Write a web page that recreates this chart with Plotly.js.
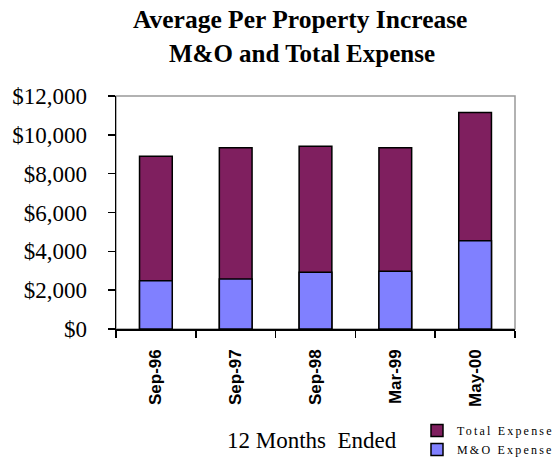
<!DOCTYPE html>
<html>
<head>
<meta charset="utf-8">
<script src="https://cdn.plot.ly/plotly-3.0.1.min.js"></script>
<style>
  html, body { margin: 0; padding: 0; background: #fff; }
  #chart { width: 559px; height: 460px; }
  .legendtext { letter-spacing: 2.2px; }
</style>
</head>
<body>
<div id="chart"></div>
<script>
// ---- data ----
const categories = ["Sep-96", "Sep-97", "Sep-98", "Mar-99", "May-00"];
const totalExpense = [8900, 9330, 9410, 9330, 11150];
const moExpense = [2480, 2570, 2920, 2980, 4540];
const seriesNames = ["Total Expense", "M&O Expense"];
const yTickVals = [0, 2000, 4000, 6000, 8000, 10000, 12000];
const yTickText = ["$0", "$2,000", "$4,000", "$6,000", "$8,000", "$10,000", "$12,000"];
const titleLines = ["Average Per Property Increase", "M&O and Total Expense"];
const xTitle = "12 Months\u00a0 Ended";

const serif = "Liberation Serif, Times New Roman, serif";
const sans = "Liberation Sans, Arial, sans-serif";

const traces = [
  {
    type: "bar", name: seriesNames[0], x: categories, y: totalExpense,
    marker: { color: "#7F1F5F", line: { color: "#000", width: 1.5 } },
    hoverinfo: "skip"
  },
  {
    type: "bar", name: seriesNames[1], x: categories, y: moExpense,
    marker: { color: "#8080FF", line: { color: "#000", width: 1.5 } },
    hoverinfo: "skip"
  }
];

const layout = {
  width: 559, height: 460,
  margin: { l: 116, r: 44, t: 96, b: 131 },
  paper_bgcolor: "#fff", plot_bgcolor: "#fff",
  barmode: "overlay",
  bargap: 0.59,
  showlegend: true,
  xaxis: {
    type: "category",
    tickson: "boundaries",
    ticks: "outside", ticklen: 7, tickwidth: 1.5, tickcolor: "#000",
    showline: true, linecolor: "#000", linewidth: 1.5,
    showgrid: false, zeroline: false,
    tickangle: -90,
    ticklabelstandoff: 12,
    automargin: false,
    tickfont: { family: sans, size: 17, color: "#000", weight: "bold" },
    fixedrange: true
  },
  xaxis2: {
    overlaying: "x", anchor: "y",
    range: [-0.5, 4.5], tickmode: "linear", tick0: -0.5, dtick: 1,
    ticks: "inside", ticklen: 7, tickwidth: 1.5, tickcolor: "#000",
    showticklabels: false, showline: false, showgrid: false, zeroline: false,
    side: "bottom", fixedrange: true
  },
  yaxis: {
    range: [0, 12000],
    tickvals: yTickVals, ticktext: yTickText,
    ticks: "outside", ticklen: 7, tickwidth: 1.5, tickcolor: "#000",
    showline: true, linecolor: "#000", linewidth: 1.5,
    showgrid: false, zeroline: false,
    ticklabelstandoff: 16,
    automargin: false,
    tickfont: { family: serif, size: 23, color: "#000" },
    fixedrange: true
  },
  yaxis2: {
    overlaying: "y", anchor: "x", side: "left",
    range: [0, 12000], tickvals: yTickVals,
    ticks: "inside", ticklen: 7, tickwidth: 1.5, tickcolor: "#000",
    showticklabels: false, showline: false, showgrid: false, zeroline: false,
    fixedrange: true
  },
  shapes: [
    {
      type: "rect", xref: "paper", yref: "paper", x0: 0, x1: 1, y0: 0, y1: 1,
      line: { color: "#999", width: 1.5 }, layer: "below"
    }
  ],
  legend: {
    xref: "paper", x: 0.757, xanchor: "left",
    yref: "container", y: 44 / 460, yanchor: "top",
    font: { family: serif, size: 12, color: "#000" },
    tracegroupgap: 0,
    traceorder: "normal",
    bgcolor: "rgba(0,0,0,0)", borderwidth: 0
  },
  annotations: [
    {
      text: titleLines[0], xref: "paper", yref: "paper",
      x: 0.461, y: 1 + (96 - 19) / 233, xanchor: "center", yanchor: "middle",
      showarrow: false,
      font: { family: serif, size: 25.5, color: "#000", weight: "bold" }
    },
    {
      text: titleLines[1], xref: "paper", yref: "paper",
      x: 0.465, y: 1 + (96 - 54) / 233, xanchor: "center", yanchor: "middle",
      showarrow: false,
      font: { family: serif, size: 25, color: "#000", weight: "bold" }
    },
    {
      text: xTitle, xref: "paper", yref: "paper",
      x: 0.491, y: -0.48, xanchor: "center", yanchor: "middle",
      showarrow: false,
      font: { family: serif, size: 23, color: "#000" }
    }
  ]
};

Plotly.newPlot("chart", traces, layout, { displayModeBar: false, staticPlot: true });
</script>
</body>
</html>
